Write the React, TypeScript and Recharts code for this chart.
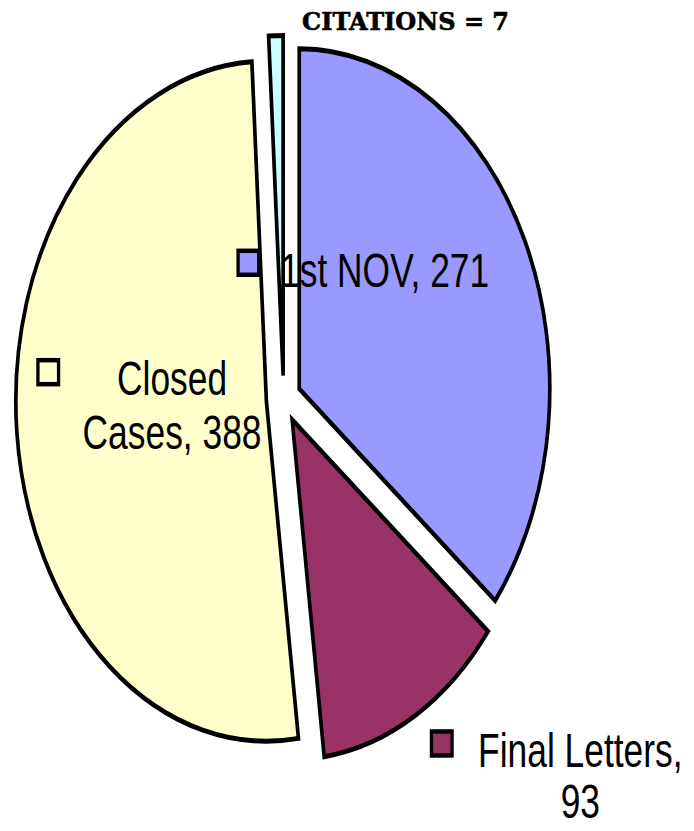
import React from 'react';
import { PieChart, Pie, Cell } from 'recharts';

const categories = ['1st NOV', 'Final Letters', 'Closed Cases', 'Citations'];
const values = [271, 93, 388, 7];
const colors = ['#9999FF', '#993366', '#FFFFCC', '#CCFFFF'];
const titleText = 'CITATIONS = 7';

const data = categories.map((name, i) => ({ name, value: values[i] }));
const total = values.reduce((a, b) => a + b, 0);

const SX = 0.737;
const W = 931;
const H = 823;
const CX = 369;
const CY = 386;
const R = 340;
const EXPLODE = 23.5;
const START = 90;
const END = -270;
const FONT = "'Liberation Sans', Arial, sans-serif";

const mids = values.map((v, i) => {
  const cum = values.slice(0, i).reduce((a, b) => a + b, 0);
  return START - (360 * (cum + v / 2)) / total;
});
const centers = mids.map((m) => {
  const rad = (m * Math.PI) / 180;
  return { x: CX + EXPLODE * Math.cos(rad), y: CY - EXPLODE * Math.sin(rad) };
});

// label layout, relative to each exploded slice center (unscaled units)
const labelLayouts: any[] = [
  { lines: ['1st NOV, 271'], anchor: 'start', tx: -21, ty: -97, sq: [-78, -133], lh: 54 },
  { lines: ['Final Letters,', '93'], anchor: 'middle', tx: 396, ty: 353, sq: [194, 317], lh: 51 },
  { lines: ['Closed', 'Cases, 388'], anchor: 'middle', tx: -123, ty: -1, sq: [-305, -36], lh: 54 },
  { title: true, tx: 30.7, ty: -340.5 },
];

function renderLabel(k: number) {
  return (props: any) => {
    if (props.index !== k) return null;
    const c = centers[k];
    const L = labelLayouts[k];
    if (L.title) {
      return (
        <text
          key={`t${k}`}
          x={0}
          y={0}
          transform={`translate(${c.x + L.tx}, ${c.y + L.ty}) scale(${1 / SX}, 1)`}
          fontFamily="'DejaVu Serif', serif"
          fontWeight="bold"
          fontSize={24}
          fill="#000"
          stroke="#000"
          strokeWidth={0.6}
        >
          {titleText}
        </text>
      );
    }
    return (
      <g key={`l${k}`}>
        <rect
          x={c.x + L.sq[0]}
          y={c.y + L.sq[1]}
          width={28}
          height={24}
          fill={colors[k]}
          stroke="#000"
          strokeWidth={4.5}
        />
        {L.lines.map((line: string, j: number) => (
          <text
            key={j}
            x={c.x + L.tx}
            y={c.y + L.ty + j * L.lh}
            textAnchor={L.anchor}
            fontFamily={FONT}
            fontSize={48}
            fill="#000"
          >
            {line}
          </text>
        ))}
      </g>
    );
  };
}

export default function App() {
  return (
    <div style={{ width: 686, height: H, overflow: 'hidden', marginBottom: -8 }}>
      <div style={{ width: W, height: H, transform: `scaleX(${SX})`, transformOrigin: '0 0' }}>
        <PieChart width={W} height={H}>
          {values.map((_, k) => (
            <Pie
              key={k}
              data={data}
              dataKey="value"
              nameKey="name"
              cx={centers[k].x}
              cy={centers[k].y}
              outerRadius={R}
              innerRadius={0}
              startAngle={START}
              endAngle={END}
              isAnimationActive={false}
              labelLine={false}
              label={renderLabel(k)}
            >
              {data.map((_, i) => (
                <Cell
                  key={i}
                  fill={i === k ? colors[i] : 'none'}
                  stroke={i === k ? '#000' : 'none'}
                  strokeWidth={5}
                  strokeLinejoin="miter"
                />
              ))}
            </Pie>
          ))}
        </PieChart>
      </div>
    </div>
  );
}
